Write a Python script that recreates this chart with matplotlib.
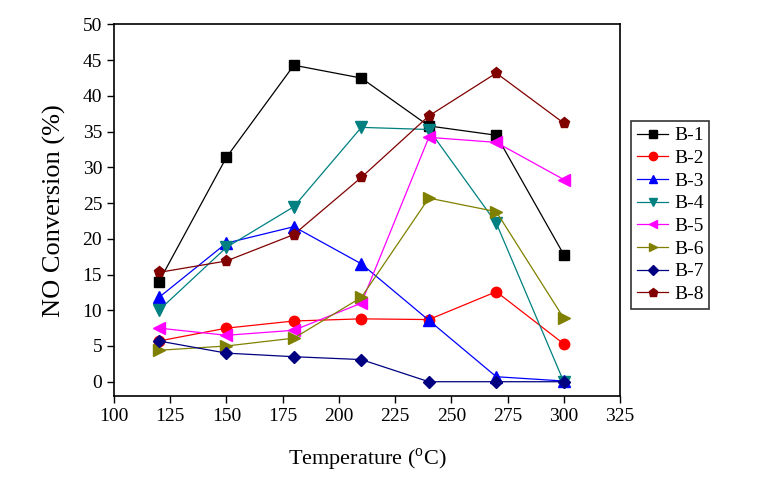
import matplotlib.pyplot as plt

temperature = [120, 150, 180, 210, 240, 270, 300]

conversion = {
    'B-1': [14.0, 31.4, 44.3, 42.5, 35.8, 34.5, 17.8],
    'B-2': [5.7, 7.5, 8.5, 8.8, 8.7, 12.6, 5.3],
    'B-3': [11.8, 19.4, 21.7, 16.5, 8.6, 0.7, 0.1],
    'B-4': [10.0, 18.8, 24.5, 35.6, 35.3, 22.2, 0.0],
    'B-5': [7.5, 6.5, 7.2, 11.0, 34.2, 33.5, 28.3],
    'B-6': [4.4, 5.0, 6.1, 11.8, 25.7, 23.8, 8.9],
    'B-7': [5.7, 4.0, 3.5, 3.1, 0.0, 0.0, 0.0],
    'B-8': [15.3, 16.9, 20.6, 28.6, 37.2, 43.2, 36.2],
}

colors = ['black', 'red', 'blue', '#008080', 'magenta', '#808000', '#000080', '#800000']
markers = ['s', 'o', '^', 'v', '<', '>', 'D', 'p']
msizes = [7, 7.5, 8, 8, 8, 8, 6, 8]

plt.rcParams['font.family'] = ['Liberation Serif', 'DejaVu Serif']

fig = plt.figure(figsize=(7.67, 4.82), dpi=100)
ax = fig.add_axes([0.1486, 0.1784, 0.6597, 0.7708])

for (label, values), c, m, ms in zip(conversion.items(), colors, markers, msizes):
    ax.plot(temperature, values, color=c, marker=m, markersize=ms, linewidth=0.9, label=label)

ax.set_xlim(100, 325)
ax.set_ylim(-2, 50)
ax.set_xticks(range(100, 326, 25))
ax.set_yticks(range(0, 51, 5))
ax.tick_params(axis='both', labelsize=14, direction='out', length=5, width=1,
               top=False, right=False)
for s in ax.spines.values():
    s.set_linewidth(1.2)

ax.set_xlabel('Temperature ($^\\mathregular{o}$C)', fontsize=16, labelpad=16)
ax.set_ylabel('NO Conversion (%)', fontsize=19, labelpad=12)

leg = fig.legend(loc='upper left', bbox_to_anchor=(0.823, 0.749), fontsize=14,
                 frameon=True, fancybox=False, edgecolor='black', handlelength=1.6,
                 handletextpad=0.3, labelspacing=0.26, borderpad=0.3, borderaxespad=0,
                 markerscale=0.8)
leg.get_frame().set_linewidth(1.2)

fig.savefig('out.png', dpi=100)
